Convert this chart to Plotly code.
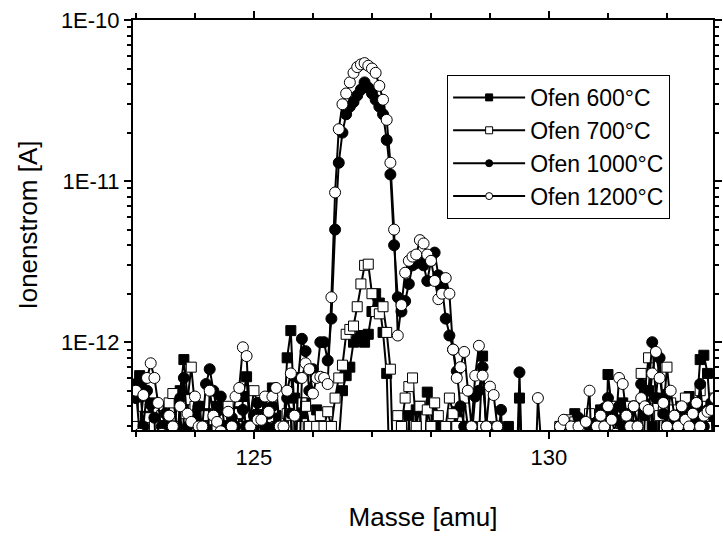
import plotly.graph_objects as go

# mass grid (amu) and ion currents in pA (1e-12 A); 0.1 pA = below the plotted range
mass_start = 123.0
mass_step = 0.0625
n_points = 159
masse = [round(mass_start + mass_step * i, 4) for i in range(n_points)]

ofen_600 = [0.55,0.62,0.1,0.35,0.42,0.3,0.1,0.38,0.32,0.3, 0.1,0.45,0.5,0.78,0.45,0.1,0.33,0.4,0.1,0.36,
            0.3,0.1,0.4,0.34,0.24,0.1,0.3,0.37,0.1,0.46, 0.61,0.3,0.1,0.35,0.42,0.3,0.1,0.52,0.35,0.1,
            0.3,0.8,1.18,0.45,0.1,0.36,0.42,0.3,0.1,0.38, 0.33,0.3,
            0.1,0.3,0.1,0.24,0.5,0.62,0.7,1.0,1.05,1.1,1.0,1.12,1.55,2.0,1.75,1.15,0.64,0.1,
            0.25,0.1,0.3,0.1,0.35,0.1,0.38,0.4,0.1,0.49, 0.41,0.1,0.3,0.1,0.25,0.1,0.3,0.37,0.1,0.25,
            0.1,0.3,0.1,0.25,0.82,0.3,0.1,0.28,0.1,0.1,
            0.1,0.3,0.1,0.1,0.45,0.1,0.1,0.1,0.1,0.1, 0.1,0.1,0.1,0.1,0.1,0.3,0.1,0.32,0.1,0.36,
            0.3,0.1,0.1,0.34,0.1,0.3,0.38,0.1,0.63,0.4,
            0.35,0.3,0.42,0.1,0.38,0.3,0.4,0.1,0.35,0.5, 0.3,0.1,0.45,0.36,0.3,0.1,0.33,0.4,0.3,0.1,
            0.46,0.36,0.38,0.78,0.83,0.64,0.3,0.4,0.35]

ofen_700 = [0.3,0.1,0.4,0.34,0.1,0.3,0.38,0.35,0.1,0.42, 0.48,0.3,0.1,0.36,0.44,0.7,0.4,0.1,0.3,0.35,
            0.1,0.33,0.3,0.1,0.35,0.4,0.3,0.1,0.36,0.3, 0.1,0.35,0.5,0.41,0.3,0.1,0.34,0.39,0.3,0.1,
            0.3,0.36,0.35,0.1,0.3,0.42,0.4,0.3,0.1,0.3, 0.35,0.3,
            0.37,0.3,0.45,0.6,0.72,1.12,1.2,1.26,1.66,2.3,3.0,3.05,2.0,1.55,1.5,1.66,1.15,0.68,
            0.1,0.35,0.3,0.45,0.53,0.6,0.3,0.4,0.1,0.38, 0.3,0.42,0.35,0.1,0.3,0.45,0.36,0.3,0.1,0.45,
            0.3,0.1,0.25,0.1,0.3,0.1,0.2,0.1,0.3,0.1,
            0.1,0.1,0.25,0.1,0.1,0.1,0.1,0.1,0.1,0.1, 0.1,0.1,0.1,0.1,0.1,0.3,0.28,0.33,0.1,0.32,
            0.1,0.3,0.1,0.36,0.1,0.3,0.34,0.28,0.1,0.4,
            0.3,0.38,0.32,0.1,0.4,0.35,0.3,0.64,0.5,0.8, 0.45,0.1,0.35,0.37,0.7,0.42,0.38,0.3,0.36,0.45,
            0.3,0.36,0.1,0.5,0.32,0.4,0.3,0.45,0.38]

ofen_1000 = [0.45,0.55,0.3,0.5,0.41,0.34,0.1,0.3,0.36,0.35, 0.3,0.1,0.45,0.6,0.3,0.1,0.35,0.4,0.3,0.55,
             0.68,0.5,0.37,0.46,0.3,0.1,0.34,0.3,0.1,0.38, 0.3,0.1,0.35,0.42,0.1,0.3,0.36,0.4,0.3,0.1,
             0.3,0.45,0.36,0.1,0.6,1.05,0.88,0.5,0.68,0.61, 1.0,1.0,
             0.77,1.4,5.0,13,20,26,29,31,34,37, 41,38,35,32,29,26,18,11,4.0,1.9,
             1.55,1.8,2.3,3.0,3.1,3.2,3.0,2.4,3.2,3.6, 2.6,2.2,1.4,1.1,0.9,
             0.66,0.4,0.3,0.1,0.25,0.46,0.5,0.7,0.3,0.1, 0.25,0.24,0.38,
             0.1,0.1,0.1,0.1,0.65,0.1,0.1,0.1,0.1,0.1, 0.1,0.1,0.1,0.1,0.1,0.3,0.31,0.1,0.3,0.1,
             0.34,0.1,0.1,0.3,0.1,0.32,0.3,0.39,0.45,0.36,
             0.33,0.4,0.3,0.36,0.1,0.4,0.3,0.55,0.42,0.5, 1.0,0.45,0.8,0.36,0.48,0.3,0.35,0.1,0.38,0.3,
             0.3,0.4,0.33,0.55,0.3,0.38,0.42,0.1,0.3]

ofen_1200 = [0.5,0.27,0.47,0.6,0.74,0.6,0.42,0.27,0.1,0.35, 0.3,0.25,0.4,0.1,0.36,0.32,0.46,0.3,0.3,0.1,
             0.5,0.35,0.32,0.28,0.1,0.37,0.3,0.46,0.52,0.93, 0.82,0.3,0.1,0.33,0.33,0.46,0.37,0.46,0.52,0.3,
             0.3,0.5,0.64,0.35,0.1,0.6,0.74,0.68,0.48,0.6, 0.61,0.6,
             0.55,1.9,8.5,21,30,35,41,47,51,53, 54,52,50,47,39,32,24,13,5.0,1.1,
             1.7,2.7,3.2,3.4,3.5,4.3,4.1,3.5,3.2,2.4, 1.85,2.0,2.5,2.0,
             0.9,0.6,0.7,0.87,0.5,0.3,0.62,0.95,0.62,0.3, 0.53,0.47,0.3,0.1,
             0.25,0.24,0.1,0.1,0.1,0.1,0.1,0.1,0.1,0.45, 0.22,0.1,0.1,0.1,0.1,0.3,0.33,0.1,0.3,0.2,
             0.3,0.1,0.32,0.5,0.1,0.3,0.35,0.3,0.4,0.33,
             0.27,0.6,0.55,0.35,0.3,0.4,0.3,0.45,0.4,0.38, 0.64,0.87,0.6,0.42,0.3,0.5,0.35,0.3,0.4,0.33,
             0.3,0.36,0.42,0.3,0.35,0.37,0.38,0.45,0.3]

series_names = ["Ofen 600°C", "Ofen 700°C", "Ofen 1000°C", "Ofen 1200°C"]
series_values = [ofen_600, ofen_700, ofen_1000, ofen_1200]
for v in series_values:
    assert len(v) == n_points, len(v)

y_tickvals = [1e-12, 1e-11, 1e-10]
y_ticktext = ["1E-12", "1E-11", "1E-10"]
x_tickvals = [125, 130]

PA = 1e-12
FONT = "Arial, Liberation Sans, sans-serif"

styles = [
    dict(symbol="square", color="black", size=10),
    dict(symbol="square", color="white", size=10),
    dict(symbol="circle", color="black", size=11),
    dict(symbol="circle", color="white", size=11),
]

fig = go.Figure()
for name, vals, st in zip(series_names, series_values, styles):
    fig.add_trace(go.Scatter(
        x=masse, y=[v * PA for v in vals], mode="lines+markers", name=name,
        showlegend=False,
        line=dict(color="black", width=2),
        marker=dict(symbol=st["symbol"], size=st["size"], color=st["color"],
                    line=dict(color="black", width=1)),
    ))
# legend entries with small markers
for name, st in zip(series_names, styles):
    fig.add_trace(go.Scatter(
        x=[None], y=[None], mode="lines+markers", name=name,
        line=dict(color="black", width=2),
        marker=dict(symbol=st["symbol"], size=7, color=st["color"],
                    line=dict(color="black", width=1)),
    ))

minor_y = [m * 10.0 ** e for e in (-13, -12, -11) for m in range(2, 10)]

fig.update_layout(
    width=723, height=543,
    margin=dict(l=133, r=1, t=20, b=113),
    paper_bgcolor="white", plot_bgcolor="white",
    font=dict(family=FONT, size=22, color="black"),
    legend=dict(x=0.5416, y=0.866, xanchor="left", yanchor="top",
                bgcolor="white", bordercolor="black", borderwidth=1,
                font=dict(family=FONT, size=23), tracegroupgap=0, itemwidth=72),
)
fig.update_xaxes(
    range=[122.95, 132.78], showgrid=False, zeroline=False,
    showline=True, linecolor="black", linewidth=2, mirror="allticks",
    tickmode="array", tickvals=x_tickvals, ticks="outside", ticklen=7, tickwidth=2,
    tickcolor="black", tickfont=dict(size=22),
    minor=dict(dtick=1, tick0=123, ticks="outside", ticklen=5, tickwidth=2, tickcolor="black"),
    title=dict(text="Masse [amu]", font=dict(size=26), standoff=38),
)
fig.update_yaxes(
    type="log", range=[-12.545, -10], showgrid=False, zeroline=False,
    showline=True, linecolor="black", linewidth=2, mirror="allticks",
    tickmode="array", tickvals=y_tickvals, ticktext=y_ticktext,
    ticks="outside", ticklen=7, tickwidth=2, tickcolor="black", tickfont=dict(size=22),
    minor=dict(tickmode="array", tickvals=minor_y, ticks="outside", ticklen=4, tickwidth=2,
               tickcolor="black"),
    title=dict(text="Ionenstrom [A]", font=dict(size=26), standoff=16),
)

fig.write_html("out.html")
